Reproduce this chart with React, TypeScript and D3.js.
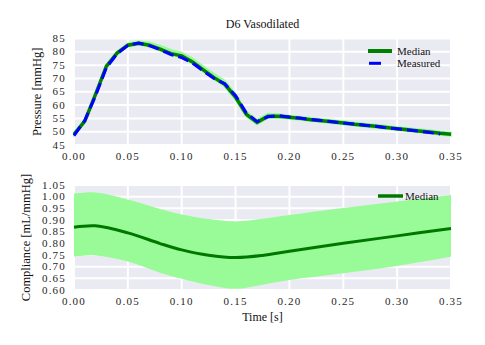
import React from "react";
import * as d3 from "d3";

// pressure curve, sampled every 0.01 s
const pTime = d3.range(36).map((i) => +(i * 0.01).toFixed(2));
const pMedian = [49.0, 54.0, 64.0, 74.5, 79.5, 82.5, 83.2, 82.5, 81.0, 79.3, 78.5, 76.2, 73.2, 70.3, 67.8, 63.0, 56.5, 53.5, 55.8, 55.8, 55.4, 55.0, 54.5, 54.1, 53.7, 53.3, 52.8, 52.4, 52.0, 51.6, 51.1, 50.7, 50.3, 49.9, 49.4, 49.0];
const pUpper = [49.6, 54.6, 64.8, 75.2, 80.2, 83.2, 84.0, 83.6, 82.4, 80.8, 79.8, 77.6, 74.6, 71.8, 69.2, 64.4, 57.6, 54.6, 56.8, 56.6, 56.1, 55.7, 55.2, 54.8, 54.4, 54.0, 53.5, 53.1, 52.7, 52.3, 51.8, 51.4, 51.0, 50.6, 50.1, 49.7];
const pLower = [48.4, 53.3, 63.2, 73.8, 78.9, 81.9, 82.6, 81.9, 80.4, 78.7, 77.8, 75.4, 72.5, 69.6, 66.9, 61.8, 55.6, 52.7, 55.0, 55.1, 54.8, 54.4, 53.9, 53.5, 53.1, 52.7, 52.2, 51.8, 51.4, 51.0, 50.5, 50.1, 49.7, 49.3, 48.8, 48.4];
const pMeasured = [48.5, 54.2, 63.5, 74.0, 79.3, 82.4, 83.3, 82.3, 80.8, 79.0, 77.8, 75.8, 72.8, 70.0, 68.0, 63.5, 57.0, 53.8, 55.6, 56.0, 55.5, 55.1, 54.6, 54.2, 53.7, 53.3, 52.9, 52.4, 52.0, 51.5, 51.1, 50.6, 50.2, 49.7, 49.1];

// compliance curve
const cTime = [0, 0.02, 0.05, 0.08, 0.1, 0.125, 0.15, 0.175, 0.2, 0.25, 0.3, 0.35];
const cMedian = [0.869, 0.875, 0.845, 0.799, 0.772, 0.749, 0.739, 0.748, 0.766, 0.8, 0.832, 0.864];
const cUpper = [1.013, 1.018, 0.988, 0.947, 0.924, 0.904, 0.894, 0.905, 0.921, 0.951, 0.979, 1.007];
const cLower = [0.743, 0.748, 0.722, 0.674, 0.648, 0.621, 0.605, 0.623, 0.643, 0.672, 0.703, 0.742];

const xTicks = [0, 0.05, 0.1, 0.15, 0.2, 0.25, 0.3, 0.35];
const pTicks = [45, 50, 55, 60, 65, 70, 75, 80, 85];
const cTicks = [0.6, 0.65, 0.7, 0.75, 0.8, 0.85, 0.9, 0.95, 1.0, 1.05];

const font = "'Liberation Serif', 'Times New Roman', serif";
const bg = "#eaeaf2";

const left = 74;
const right = 451;

function Panel({ top, bottom, yDomain, yTicks, yFmt, ylabel, labelX, children }: any) {
  const x = d3.scaleLinear().domain([0, 0.35]).range([left, right]);
  const y = d3.scaleLinear().domain(yDomain).range([bottom, top]);
  return (
    <g>
      <rect x={left} y={top} width={right - left} height={bottom - top} fill={bg} />
      {xTicks.map((t) => (
        <line key={"gx" + t} x1={x(t)} x2={x(t)} y1={top} y2={bottom} stroke="#fff" strokeWidth={2} />
      ))}
      {yTicks.map((t: number) => (
        <line key={"gy" + t} x1={left} x2={right} y1={y(t)} y2={y(t)} stroke="#fff" strokeWidth={2} />
      ))}
      {children(x, y)}
      {xTicks.map((t) => (
        <text key={"tx" + t} x={x(t)} y={bottom + 14.5} textAnchor="middle" fontSize={11} letterSpacing={1.2} fill="#262626">
          {t.toFixed(2)}
        </text>
      ))}
      {yTicks.map((t: number) => (
        <text key={"ty" + t} x={left - 8} y={y(t) + 3.5} textAnchor="end" fontSize={11} letterSpacing={1.2} fill="#262626">
          {yFmt(t)}
        </text>
      ))}
      <text transform={`translate(${labelX},${(top + bottom) / 2}) rotate(-90)`} textAnchor="middle" fontSize={12.5} fill="#111">
        {ylabel}
      </text>
    </g>
  );
}

export default function App() {
  return (
    <svg width={485} height={345} style={{ position: "absolute", left: 0, top: 0, background: "#fff" }} fontFamily={font}>
      <text x={(left + right) / 2} y={28} textAnchor="middle" fontSize={12} fill="#111">
        D6 Vasodilated
      </text>
      <Panel top={38.5} bottom={145} yDomain={[45, 85]} yTicks={pTicks} yFmt={(v: number) => String(v)} ylabel="Pressure [mmHg]" labelX={41}>
        {(x: any, y: any) => {
          const band = d3
            .area<number>()
            .x((_, i) => x(pTime[i]))
            .y0((_, i) => y(pLower[i]))
            .y1((_, i) => y(pUpper[i]));
          const med = d3.line<number>().x((_, i) => x(pTime[i])).y((d) => y(d));
          return (
            <g>
              <path d={band(pMedian) || ""} fill="#98fb98" stroke="#98fb98" strokeWidth={1.5} />
              <path d={med(pMedian) || ""} fill="none" stroke="#008000" strokeWidth={3.5} />
              <path d={med(pMeasured) || ""} fill="none" stroke="#0000ff" strokeWidth={3} strokeDasharray="11,5" />
              <line x1={368} x2={392} y1={51} y2={51} stroke="#008000" strokeWidth={4} />
              <text x={397} y={55} fontSize={11} fill="#111">Median</text>
              <line x1={369} x2={381} y1={63.3} y2={63.3} stroke="#0000ff" strokeWidth={3} />
              <text x={397} y={67} fontSize={11} fill="#111">Measured</text>
            </g>
          );
        }}
      </Panel>
      <Panel top={185} bottom={290} yDomain={[0.6, 1.05]} yTicks={cTicks} yFmt={(v: number) => v.toFixed(2)} ylabel="Compliance [mL/mmHg]" labelX={30}>
        {(x: any, y: any) => {
          const band = d3
            .area<number>()
            .curve(d3.curveCatmullRom.alpha(0.5))
            .x((_, i) => x(cTime[i]))
            .y0((_, i) => y(cLower[i]))
            .y1((_, i) => y(cUpper[i]));
          const med = d3.line<number>().curve(d3.curveCatmullRom.alpha(0.5)).x((_, i) => x(cTime[i])).y((d) => y(d));
          return (
            <g>
              <path d={band(cMedian) || ""} fill="#98fb98" />
              <path d={med(cMedian) || ""} fill="none" stroke="#007800" strokeWidth={3} />
              <line x1={378} x2={403} y1={196} y2={196} stroke="#007800" strokeWidth={3.5} />
              <text x={405} y={200} fontSize={11} fill="#111">Median</text>
            </g>
          );
        }}
      </Panel>
      <text x={(left + right) / 2} y={321} textAnchor="middle" fontSize={12} fill="#111">
        Time [s]
      </text>
    </svg>
  );
}
